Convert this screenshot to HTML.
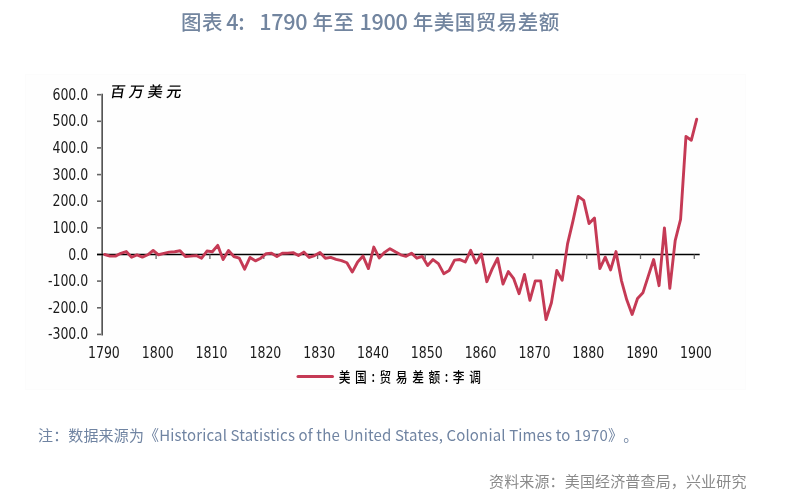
<!DOCTYPE html>
<html><head><meta charset="utf-8"><style>
html,body{margin:0;padding:0;background:#fff;}
body{width:793px;height:500px;position:relative;overflow:hidden;}
.t{position:absolute;white-space:nowrap;text-spacing-trim:space-all;will-change:transform;}
#title{left:180.5px;top:6px;line-height:30px;letter-spacing:0.5px;font:500 20.5px "Noto Sans CJK SC",sans-serif;color:#72859f;}
#note{left:38px;top:424px;letter-spacing:0.15px;font:400 15px "Noto Sans CJK SC",sans-serif;color:#7084a2;}
#src{left:489px;top:470px;letter-spacing:0.15px;font:400 15px "Noto Sans CJK SC",sans-serif;color:#8a8a8a;}
.d{font-size:21.6px;letter-spacing:-0.3px;line-height:20px;vertical-align:0.5px;}
.lat{letter-spacing:0.15px;}
svg{position:absolute;left:0;top:0;will-change:transform;}
</style></head><body>
<div class="t" id="title">图表 <span class="d" style="margin-left:-2px">4:</span><span style="display:inline-block;width:15px"></span><span class="d">1790</span> 年至 <span class="d">1900</span> 年美国贸易差额</div>
<svg width="793" height="500" viewBox="0 0 793 500">
<rect x="25.5" y="74.5" width="720" height="315" fill="#fefefe" stroke="#fcfcfc" stroke-width="1"/>
<g font-family="DejaVu Sans, sans-serif" font-stretch="condensed" font-size="15" letter-spacing="0" fill="#1a1a1a" text-anchor="end">
<text transform="translate(88.3,99.7) scale(0.93,1)">600.0</text><text transform="translate(88.3,126.3) scale(0.93,1)">500.0</text><text transform="translate(88.3,152.9) scale(0.93,1)">400.0</text><text transform="translate(88.3,179.6) scale(0.93,1)">300.0</text><text transform="translate(88.3,206.2) scale(0.93,1)">200.0</text><text transform="translate(88.3,232.9) scale(0.93,1)">100.0</text><text transform="translate(88.3,259.5) scale(0.93,1)">0.0</text><text transform="translate(88.3,286.1) scale(0.93,1)">-100.0</text><text transform="translate(88.3,312.8) scale(0.93,1)">-200.0</text><text transform="translate(88.3,339.4) scale(0.93,1)">-300.0</text>
</g>
<g font-family="DejaVu Sans, sans-serif" font-stretch="condensed" font-size="15" letter-spacing="0" fill="#1a1a1a" text-anchor="middle">
<text transform="translate(103.9,358.2) scale(0.93,1)">1790</text><text transform="translate(157.7,358.2) scale(0.93,1)">1800</text><text transform="translate(211.5,358.2) scale(0.93,1)">1810</text><text transform="translate(265.4,358.2) scale(0.93,1)">1820</text><text transform="translate(319.2,358.2) scale(0.93,1)">1830</text><text transform="translate(373.0,358.2) scale(0.93,1)">1840</text><text transform="translate(426.8,358.2) scale(0.93,1)">1850</text><text transform="translate(480.6,358.2) scale(0.93,1)">1860</text><text transform="translate(534.5,358.2) scale(0.93,1)">1870</text><text transform="translate(588.3,358.2) scale(0.93,1)">1880</text><text transform="translate(642.1,358.2) scale(0.93,1)">1890</text><text transform="translate(695.9,358.2) scale(0.93,1)">1900</text>
</g>
<rect x="101" y="93.7" width="1" height="241.8" fill="#8c8c8c"/>
<rect x="102" y="93.7" width="1" height="241.8" fill="#555"/>
<g stroke="#666" stroke-width="1.6">
<line x1="97" y1="94.7" x2="101" y2="94.7"/><line x1="97" y1="121.3" x2="101" y2="121.3"/><line x1="97" y1="147.9" x2="101" y2="147.9"/><line x1="97" y1="174.6" x2="101" y2="174.6"/><line x1="97" y1="201.2" x2="101" y2="201.2"/><line x1="97" y1="227.9" x2="101" y2="227.9"/><line x1="97" y1="254.5" x2="101" y2="254.5"/><line x1="97" y1="281.1" x2="101" y2="281.1"/><line x1="97" y1="307.8" x2="101" y2="307.8"/><line x1="97" y1="334.4" x2="101" y2="334.4"/>
</g>
<g stroke="#000" stroke-width="1.3">
<line x1="97" y1="254.5" x2="699.7" y2="254.5"/>
</g>
<g stroke="#6a6a6a" stroke-width="1.3">
<line x1="156.1" y1="254.5" x2="156.1" y2="259.0"/><line x1="209.9" y1="254.5" x2="209.9" y2="259.0"/><line x1="263.8" y1="254.5" x2="263.8" y2="259.0"/><line x1="317.6" y1="254.5" x2="317.6" y2="259.0"/><line x1="371.4" y1="254.5" x2="371.4" y2="259.0"/><line x1="425.2" y1="254.5" x2="425.2" y2="259.0"/><line x1="479.0" y1="254.5" x2="479.0" y2="259.0"/><line x1="532.9" y1="254.5" x2="532.9" y2="259.0"/><line x1="586.7" y1="254.5" x2="586.7" y2="259.0"/><line x1="640.5" y1="254.5" x2="640.5" y2="259.0"/><line x1="694.3" y1="254.5" x2="694.3" y2="259.0"/>
</g>
<polyline points="104.70,254.50 110.08,256.10 115.46,256.10 120.85,253.30 126.23,251.57 131.61,257.30 136.99,254.90 142.37,257.16 147.76,254.77 153.14,250.50 158.52,254.77 163.90,253.30 169.28,252.10 174.67,251.70 180.05,250.77 185.43,256.50 190.81,256.10 196.19,255.57 201.58,258.23 206.96,251.04 212.34,251.70 217.72,245.31 223.10,259.56 228.49,250.50 233.87,256.50 239.25,258.23 244.63,269.15 250.01,257.43 255.40,260.89 260.78,258.23 266.16,253.70 271.54,253.17 276.92,256.50 282.31,253.30 287.69,253.17 293.07,252.64 298.45,255.57 303.83,252.10 309.22,257.43 314.60,255.57 319.98,252.50 325.36,258.23 330.74,257.43 336.13,259.30 341.51,260.63 346.89,262.76 352.27,272.08 357.65,261.96 363.04,256.10 368.42,268.62 373.80,247.04 379.18,257.96 384.56,252.37 389.95,248.64 395.33,251.84 400.71,254.77 406.09,256.36 411.47,253.17 416.86,258.23 422.24,256.36 427.62,265.42 433.00,259.56 438.38,263.56 443.77,273.68 449.15,270.48 454.53,260.09 459.91,259.56 465.29,261.96 470.68,250.24 476.06,263.02 481.44,253.97 486.82,281.67 492.20,268.89 497.59,258.23 502.97,284.07 508.35,271.55 513.73,278.74 519.11,293.66 524.50,274.48 529.88,300.32 535.26,280.87 540.64,280.87 546.02,319.50 551.41,302.72 556.79,270.48 562.17,280.34 567.55,243.84 572.93,221.20 578.32,196.42 583.70,200.42 589.08,223.60 594.46,218.00 599.84,268.62 605.23,257.16 610.61,269.95 615.99,251.57 621.37,280.34 626.75,299.79 632.14,314.44 637.52,298.46 642.90,292.86 648.28,276.08 653.66,259.56 659.05,285.67 664.43,227.86 669.81,288.33 675.19,240.65 680.57,219.34 685.96,136.48 691.34,140.21 696.72,119.17" fill="none" stroke="#c53a55" stroke-width="2.9" stroke-linejoin="round" stroke-linecap="round"/>
<line x1="298" y1="376.6" x2="332.5" y2="376.6" stroke="#c53a55" stroke-width="3" stroke-linecap="round"/>
<text x="0" y="0" font-family="Noto Sans CJK SC, sans-serif" font-size="15" letter-spacing="3.8" font-weight="500" transform="translate(109.5,97) skewX(-9)">百万美元</text>
<text transform="translate(338.8,381.8) scale(0.85,1)" font-family="Noto Sans CJK SC, sans-serif" font-size="13.8" font-weight="500" letter-spacing="5.4">美国:贸易差额:李调</text>
</svg>
<div class="t" id="note">注：数据来源为《<span class="lat">Historical Statistics of the United States, Colonial Times to 1970</span>》。</div>
<div class="t" id="src">资料来源：美国经济普查局，兴业研究</div>
</body></html>
